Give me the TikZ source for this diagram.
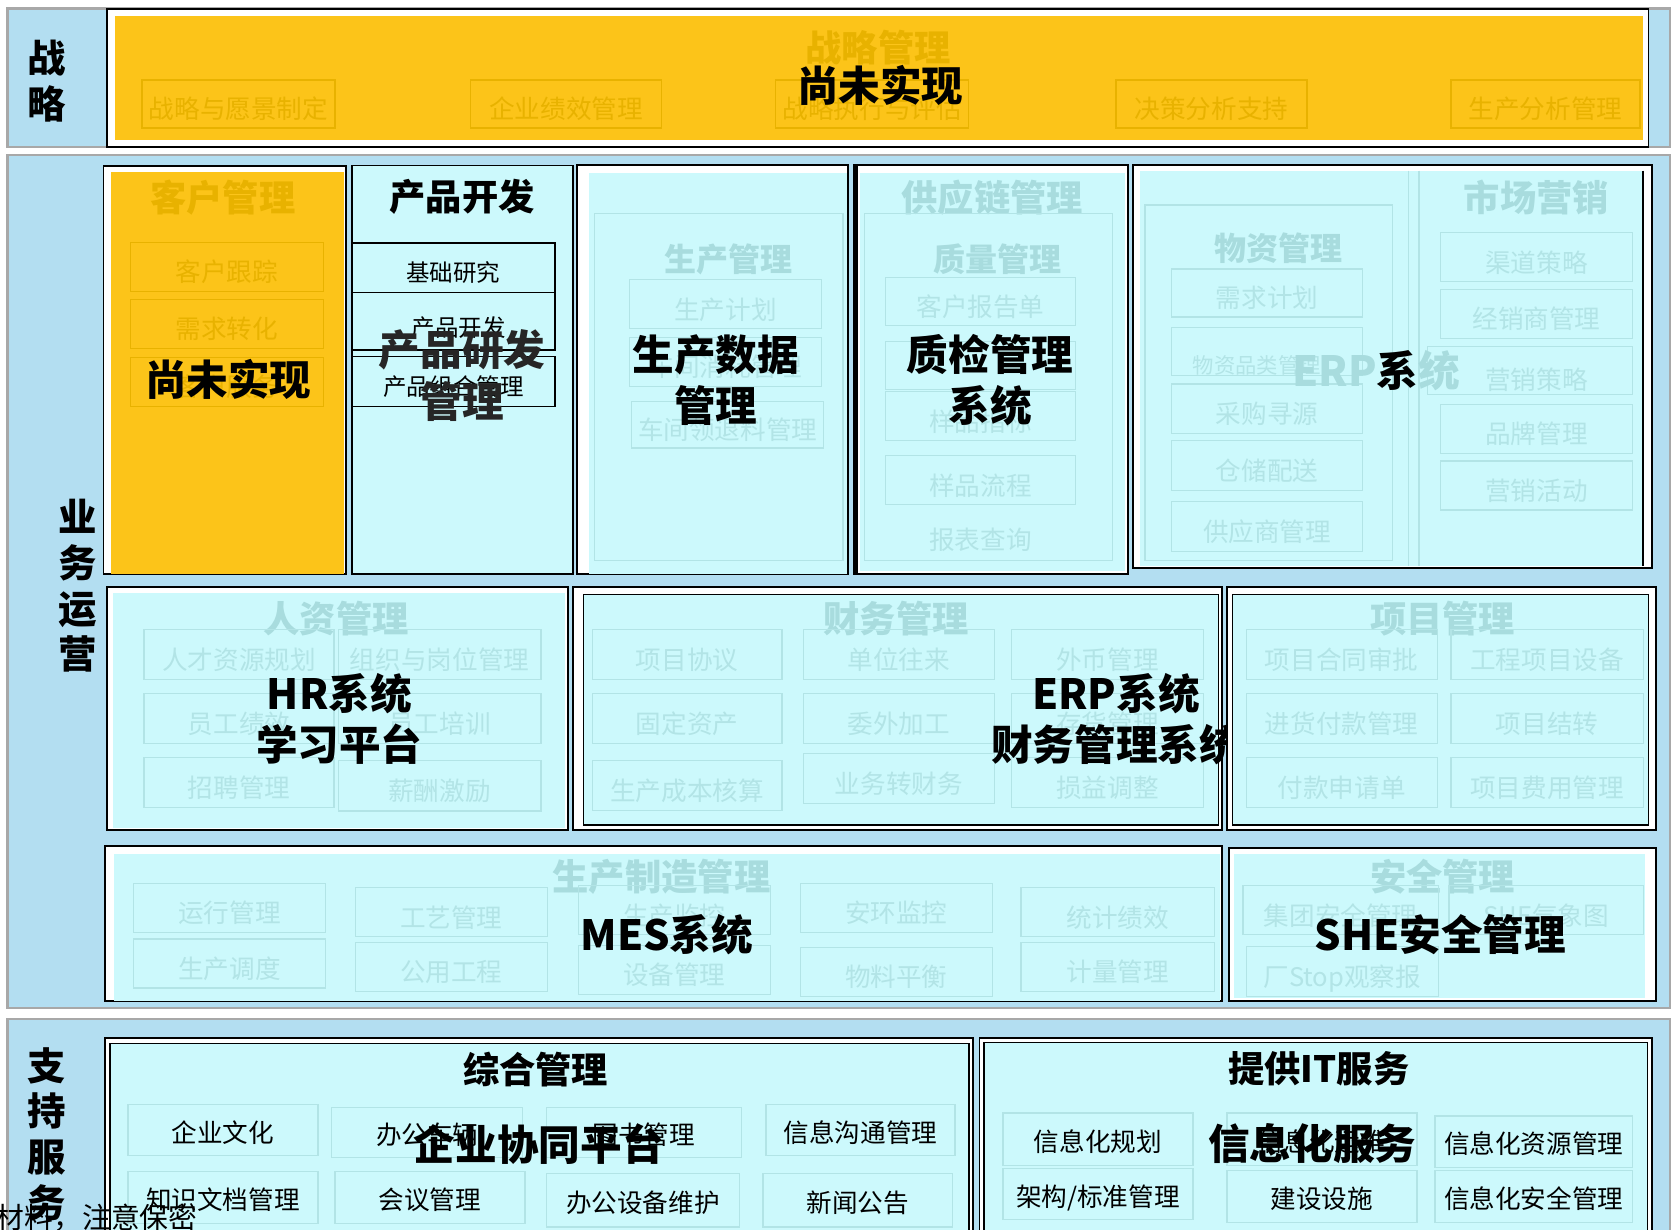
\documentclass[tikz,border=0pt]{standalone}
\usepackage{fontspec}
\setmainfont{Noto Sans CJK SC}
\definecolor{bandblue}{HTML}{B3DEF1}
\definecolor{bandgray}{HTML}{A8A8A8}
\definecolor{cyanf}{HTML}{CCF9FC}
\definecolor{yel}{HTML}{FCC419}
\definecolor{fainty}{HTML}{E8B200}
\definecolor{faintc}{HTML}{B2E4E6}
\definecolor{faintt}{HTML}{A8DCDE}
\begin{document}
\begin{tikzpicture}[x=1pt,y=-1pt,
  band/.style={draw=bandgray, line width=2, fill=bandblue},
  blk/.style={draw=black, line width=1.8, fill=white},
  blkc/.style={draw=black, line width=1.5, fill=cyanf},
  fb/.style={draw=faintc, line width=1.2, text=faintc, font=\fontsize{24}{26}\selectfont, inner sep=0pt, text height=28pt, text depth=0pt},
  fby/.style={draw=fainty, line width=1.2, text=fainty, font=\fontsize{24}{26}\selectfont, inner sep=0pt, text height=28pt, text depth=0pt},
  fbk/.style={draw=faintc, line width=1.2, text=black, font=\fontsize{24}{26}\selectfont, inner sep=0pt, text height=23pt, text depth=0pt},
  pb/.style={draw=black, line width=1.5, fill=cyanf, text=black, font=\fontsize{22}{24}\selectfont, inner sep=0pt, text height=26pt, text depth=0pt},
  ftl/.style={text=faintt, font=\bfseries\fontsize{34}{36}\selectfont, inner sep=0pt},
  ftls/.style={text=faintt, font=\bfseries\fontsize{30}{32}\selectfont, inner sep=0pt},
  ftly/.style={text=fainty, font=\bfseries\fontsize{34}{36}\selectfont, inner sep=0pt},
  btl/.style={text=black, font=\bfseries\fontsize{34}{36}\selectfont, inner sep=0pt},
  big/.style={text=black, font=\bfseries\fontsize{39}{48}\selectfont, align=center, inner sep=0pt},
  lbl/.style={text=black, font=\bfseries\fontsize{36}{43}\selectfont, align=center, inner sep=0pt},
  plain/.style={text=faintc, font=\fontsize{24}{26}\selectfont, inner sep=0pt}
]
\useasboundingbox (0,0) rectangle (1568,1152);
\clip (0,0) rectangle (1568,1152);
\fill[white] (0,0) rectangle (1568,1152);

% ---------- band 1: strategy ----------
\draw[band] (7,8) rectangle (1565,138);
\draw[blk] (100,8) rectangle (1545,138);
\fill[yel] (108,15) rectangle (1540,131);
\node[lbl] (l1) at (44,76) {战\\略};
\node[ftly] (t1) at (823,45) {战略管理};
\node[fby, minimum width=181, minimum height=45] (s1) at (223.5,97.5) {战略与愿景制定};
\node[fby, minimum width=179, minimum height=45] (s2) at (530.5,97.5) {企业绩效管理};
\node[fby, minimum width=181, minimum height=45] (s3) at (817.5,97.5) {战略执行与评估};
\node[fby, minimum width=179, minimum height=45] (s4) at (1135.5,97.5) {决策分析支持};
\node[fby, minimum width=177, minimum height=45] (s5) at (1448.5,97.5) {生产分析管理};
\node[big] (n1) at (825,80) {尚未实现};

% ---------- band 2: operations ----------
\draw[band] (7,145) rectangle (1565,945);
\node[lbl] (l2) at (73,549) {业\\务\\运\\营};

% customer
\draw[blk] (97,156) rectangle (324,538);
\fill[yel] (104,161) rectangle (322,538);
\node[ftly] (t2) at (209,185) {客户管理};
\node[fby, minimum width=181, minimum height=46] (c1) at (212.5,250) {客户跟踪};
\node[fby, minimum width=181, minimum height=46] (c2) at (212.5,303.5) {需求转化};
\node[fby, minimum width=181, minimum height=46] (c3) at (212.5,358) {客户服务};
\node[big] (n2) at (214,356) {尚未实现};

% product development
\draw[blkc] (330,155) rectangle (537,538);
\node[btl] (t3) at (433,184) {产品开发};
\node[pb, minimum width=190, minimum height=46] (p1) at (425,251) {基础研究};
\node[pb, minimum width=190, minimum height=54] (p2) at (425,301) {};
\node[pb, minimum width=190, minimum height=47] (p3) at (425,357.5) {产品组合管理};
\node[text=black, font=\fontsize{22}{24}\selectfont] (p2t) at (430,307) {产品开发};
\node[big, text=black!85] (n3) at (433,352) {产品研发\\管理};

% production data
\draw[blk] (541,155) rectangle (795,538);
\fill[cyanf] (552,162) rectangle (794,538);
\draw[faintc, line width=1.2] (557,200) rectangle (790,525);
\node[ftls] (t4) at (683,243) {生产管理};
\node[fb, minimum width=180, minimum height=46] (d1) at (680,285) {生产计划};
\node[fb, minimum width=180, minimum height=46] (d2) at (680,339) {车间消耗管理};
\node[fb, minimum width=180, minimum height=44] (d3) at (682,398) {车间领退料管理};
\node[big] (n4) at (671,356) {生产数据\\管理};

% supply chain / quality
\draw[blk] (800,155) rectangle (1057,538);
\draw[black, line width=3.5] (802,155) -- (802,538);
\fill[cyanf] (806,162) rectangle (1054,535);
\node[ftl] (t5) at (930,185) {供应链管理};
\draw[faintc, line width=1.2] (810,200) rectangle (1043,525);
\node[ftls] (t6) at (935,243) {质量管理};
\node[fb, minimum width=178, minimum height=45] (q1) at (919,282.5) {客户报告单};
\node[fb, minimum width=178, minimum height=45] (q2) at (919,342.5) {};
\node[fb, minimum width=178, minimum height=46] (q3) at (919,390) {样品指标};
\node[fb, minimum width=178, minimum height=46] (q4) at (919,450) {样品流程};
\node[plain] (q5) at (919,506) {报表查询};
\node[big] (n5) at (928,356) {质检管理\\系统};

% materials / marketing
\draw[blk] (1062,155) rectangle (1548,532);
\fill[cyanf] (1068,160) rectangle (1540,530);
\draw[black, line width=1.5] (1540,160) -- (1540,530);
\draw[faintc, line width=1.2] (1320,160) -- (1320,530);
\draw[faintc, line width=1.2] (1330,160) -- (1330,530);
\draw[faintc, line width=1.2] (1073,192) rectangle (1305,525);
\node[ftls] (t7) at (1198,233) {物资管理};
\node[fb, minimum width=179, minimum height=45] (m1) at (1187.5,274.5) {需求计划};
\node[fb, minimum width=179, minimum height=45] (m2) at (1187.5,329.5) {};
\node[plain, font=\fontsize{20}{22}\selectfont] (m2t) at (1178,342) {物资品类管理};
\node[fb, minimum width=179, minimum height=46] (m3) at (1187.5,383) {采购寻源};
\node[fb, minimum width=179, minimum height=47] (m4) at (1187.5,436.5) {仓储配送};
\node[fb, minimum width=179, minimum height=47] (m5) at (1187.5,493.5) {供应商管理};
\node[ftl] (t8) at (1440,185) {市场营销};
\node[fb, minimum width=180, minimum height=46] (k1) at (1440,241) {渠道策略};
\node[fb, minimum width=180, minimum height=46] (k2) at (1440,294) {经销商管理};
\node[fb, minimum width=192, minimum height=45] (k3) at (1434,347.5) {};
\node[plain] (k3t) at (1440,356) {营销策略};
\node[fb, minimum width=180, minimum height=46] (k4) at (1440,402) {品牌管理};
\node[fb, minimum width=180, minimum height=46] (k5) at (1440,455) {营销活动};
\node[big, text=faintt] (n6) at (1290,347) {ERP\textcolor{black}{系}统};

% HR
\draw[blk] (100,550) rectangle (532,778);
\fill[cyanf] (106,556) rectangle (530,776);
\node[ftl] (t9) at (315,580) {人资管理};
\node[fb, minimum width=178, minimum height=47] (h1) at (224,613.5) {人才资源规划};
\node[fb, minimum width=190, minimum height=47] (h2) at (412,613.5) {组织与岗位管理};
\node[fb, minimum width=178, minimum height=47] (h3) at (224,673.5) {员工绩效};
\node[fb, minimum width=190, minimum height=47] (h4) at (412,673.5) {员工培训};
\node[fb, minimum width=178, minimum height=47] (h5) at (224,733.5) {招聘管理};
\node[fb, minimum width=190, minimum height=47] (h6) at (412,736.5) {薪酬激励};
\node[big] (n7) at (318,674) {HR系统\\学习平台};

% finance
\draw[blk] (537,550) rectangle (1145,778);
\draw[blkc] (547,557) rectangle (1142,773);
\node[ftl] (t10) at (840,580) {财务管理};
\node[fb, minimum width=178, minimum height=47] (f1) at (644,613.5) {项目协议};
\node[fb, minimum width=179, minimum height=47] (f2) at (842.5,613.5) {单位往来};
\node[fb, minimum width=180, minimum height=47] (f3) at (1038,613.5) {外币管理};
\node[fb, minimum width=178, minimum height=47] (f4) at (644,673.5) {固定资产};
\node[fb, minimum width=179, minimum height=47] (f5) at (842.5,673.5) {委外加工};
\node[fb, minimum width=180, minimum height=47] (f6) at (1038,673.5) {存货管理};
\node[fb, minimum width=178, minimum height=47] (f7) at (644,736) {生产成本核算};
\node[fb, minimum width=179, minimum height=47] (f8) at (842.5,729.5) {业务转财务};
\node[fb, minimum width=180, minimum height=47] (f9) at (1038,733.5) {损益调整};
\node[big] (n8) at (1046,674) {ERP系统\\财务管理系统};

% project
\draw[blk] (1150,550) rectangle (1552,778);
\draw[blkc] (1155,557) rectangle (1545,773);
\node[ftl] (t11) at (1352,580) {项目管理};
\node[fb, minimum width=179, minimum height=47] (j1) at (1257.5,613.5) {项目合同审批};
\node[fb, minimum width=180, minimum height=47] (j2) at (1450,613.5) {工程项目设备};
\node[fb, minimum width=179, minimum height=47] (j3) at (1257.5,673.5) {进货付款管理};
\node[fb, minimum width=180, minimum height=47] (j4) at (1450,673.5) {项目结转};
\node[fb, minimum width=179, minimum height=47] (j5) at (1257.5,733.5) {付款申请单};
\node[fb, minimum width=180, minimum height=47] (j6) at (1450,733.5) {项目费用管理};

% MES
\draw[blk] (98,793) rectangle (1145,938);
\fill[cyanf] (107,800) rectangle (1143,938);
\node[ftl] (t12) at (620,822) {生产制造管理};
\node[fb, minimum width=180, minimum height=46] (e1) at (215,851) {运行管理};
\node[fb, minimum width=180, minimum height=46] (e2) at (215,903) {生产调度};
\node[fb, minimum width=180, minimum height=46] (e3) at (423,855) {工艺管理};
\node[fb, minimum width=180, minimum height=46] (e4) at (423,906) {公用工程};
\node[fb, minimum width=180, minimum height=46] (e5) at (632,853) {生产监控};
\node[fb, minimum width=180, minimum height=46] (e6) at (632,909) {设备管理};
\node[fb, minimum width=180, minimum height=46] (e7) at (840,851) {安环监控};
\node[fb, minimum width=180, minimum height=46] (e8) at (840,911) {物料平衡};
\node[fb, minimum width=181, minimum height=46] (e9) at (1047.5,855) {统计绩效};
\node[fb, minimum width=181, minimum height=46] (e10) at (1047.5,906) {计量管理};
\node[big] (n9) at (625,876) {MES系统};

% SHE
\draw[blk] (1152,795) rectangle (1552,938);
\fill[cyanf] (1157,800) rectangle (1542,935);
\node[ftl] (t13) at (1352,822) {安全管理};
\node[fb, minimum width=183, minimum height=46] (h7) at (1256.5,853) {集团安全管理};
\node[fb, minimum width=182, minimum height=46] (h8) at (1449,853) {SHE气象图};
\node[fb, minimum width=180, minimum height=47] (h9) at (1258,910.5) {厂Stop观察报};
\node[big] (n10) at (1350,876) {SHE安全管理};

% ---------- band 3: support ----------
\draw[band] (7,955) rectangle (1565,1170);
\node[lbl] (l3) at (44,1063) {支\\持\\服\\务};

\draw[blk] (98,973) rectangle (912,1170);
\draw[blkc] (103,978) rectangle (908,1170);
\node[btl] (t14) at (502,1002) {综合管理};
\node[fbk, minimum width=178, minimum height=48] (g1) at (209,1059) {企业文化};
\node[fbk, minimum width=179, minimum height=47] (g2) at (400.5,1061.5) {办公车辆};
\node[fbk, minimum width=183, minimum height=47] (g3) at (603.5,1061.5) {图书管理};
\node[fbk, minimum width=177, minimum height=48] (g4) at (806.5,1059) {信息沟通管理};
\node[fbk, minimum width=178, minimum height=49] (g5) at (209,1122.5) {知识文档管理};
\node[fbk, minimum width=178, minimum height=49] (g6) at (403,1122.5) {会议管理};
\node[fbk, minimum width=181, minimum height=50] (g7) at (602.5,1125) {办公设备维护};
\node[fbk, minimum width=178, minimum height=50] (g8) at (804,1125) {新闻公告};
\node[big] (n11) at (505,1072) {企业协同平台};

\draw[blk] (918,973) rectangle (1548,1170);
\draw[blkc] (922,977) rectangle (1544,1170);
\node[btl] (t15) at (1236,1002) {提供IT服务};
\node[fbk, minimum width=178, minimum height=49] (i1) at (1029,1067.5) {信息化规划};
\node[fbk, minimum width=178, minimum height=49] (i2) at (1239,1067.5) {信息化运维};
\node[fbk, minimum width=185, minimum height=48] (i3) at (1437.5,1070) {信息化资源管理};
\node[fbk, minimum width=178, minimum height=48] (i4) at (1029,1119) {架构/标准管理};
\node[fbk, minimum width=178, minimum height=49] (i5) at (1239,1121.5) {建设设施};
\node[fbk, minimum width=185, minimum height=49] (i6) at (1437.5,1121.5) {信息化安全管理};
\node[big] (n12) at (1230,1072) {信息化服务};

\node[anchor=west, text=black, font=\fontsize{27}{29}\selectfont, inner sep=0pt] (foot) at (-4,1141) {材料，注意保密};
\end{tikzpicture}
\end{document}
